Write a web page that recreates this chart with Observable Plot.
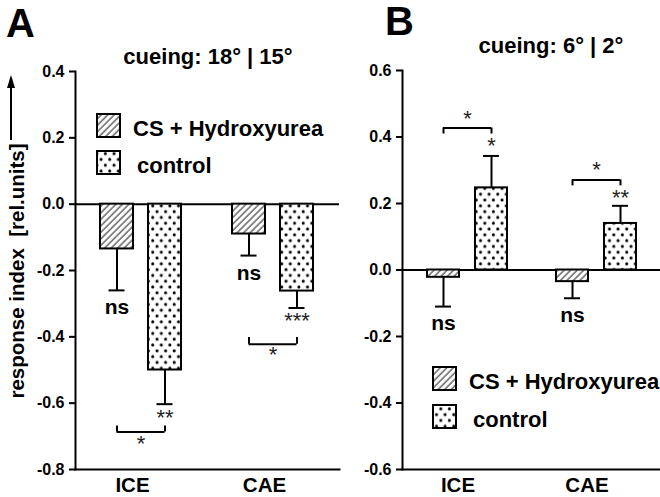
<!DOCTYPE html>
<html>
<head>
<meta charset="utf-8">
<script src="https://cdn.jsdelivr.net/npm/d3@7"></script>
<script src="https://cdn.jsdelivr.net/npm/@observablehq/plot@0.6"></script>
<style>
  html, body { margin: 0; padding: 0; background: #fff; }
  #wrap { position: relative; width: 660px; height: 497px; overflow: hidden; font-family: "Liberation Sans", Arial, sans-serif; }
  #wrap > svg { position: absolute; top: 0; }
</style>
</head>
<body>
<div id="wrap"></div>
<script>
// ---------- data ----------
const categories = ["ICE", "CAE"];
const seriesNames = ["CS + Hydroxyurea", "control"];
const yTicksA = [0.4, 0.2, 0.0, -0.2, -0.4, -0.6, -0.8];
const yTicksB = [0.6, 0.4, 0.2, 0.0, -0.2, -0.4, -0.6];
const titleA = "cueing: 18° | 15°";
const titleB = "cueing: 6° | 2°";
const yLabel = "response index  [rel.units]";

// Panel A
const A_cs      = [-0.135, -0.090];
const A_csErr   = [-0.260, -0.155];
const A_ctl     = [-0.500, -0.262];
const A_ctlErr  = [-0.603, -0.313];
const A_csSig   = ["ns", "ns"];
const A_csSigY  = [-0.31, -0.208];
const A_ctlSig  = ["**", "***"];
const A_ctlSigY = [-0.636, -0.344];
const A_brY     = [-0.687, -0.422];
const A_brEndY  = [-0.669, -0.402];
const A_brSig   = ["*", "*"];
const A_brSigY  = [-0.714, -0.446];

// Panel B
const B_cs      = [-0.022, -0.035];
const B_csErr   = [-0.110, -0.085];
const B_ctl     = [0.247, 0.140];
const B_ctlErr  = [0.343, 0.193];
const B_csSig   = ["ns", "ns"];
const B_csSigY  = [-0.16, -0.135];
const B_ctlSig  = ["*", "**"];
const B_ctlSigY = [0.382, 0.226];
const B_brY     = [0.427, 0.271];
const B_brEndY  = [0.409, 0.253];
const B_brSig   = ["*", "*"];
const B_brSigY  = [0.463, 0.310];

const FONT = "Liberation Sans, Arial, Helvetica, sans-serif";

function rowsOf(cs, csErr, ctl, ctlErr, csSig, csSigY, ctlSig, ctlSigY, brY, brEndY, brSig, brSigY) {
  return categories.map((c, i) => ({
    cat: c, cs: cs[i], csErr: csErr[i], ctl: ctl[i], ctlErr: ctlErr[i],
    csSig: csSig[i], csSigY: csSigY[i], ctlSig: ctlSig[i], ctlSigY: ctlSigY[i],
    brY: brY[i], brEndY: brEndY[i], brSig: brSig[i], brSigY: brSigY[i]
  }));
}

function panel(rows, cfg) {
  const step = (cfg.width - cfg.marginLeft - cfg.marginRight) / categories.length;
  const bw = cfg.barW;
  const csL = cfg.csLeft, ctlL = cfg.ctlLeft;
  const csC = csL + bw / 2, ctlC = ctlL + bw / 2;
  const half = step / 2;
  const cap = 8;
  return Plot.plot({
    width: cfg.width, height: 497,
    marginLeft: cfg.marginLeft, marginRight: cfg.marginRight,
    marginTop: cfg.marginTop, marginBottom: cfg.marginBottom,
    x: { domain: categories, padding: 0, axis: null },
    y: { domain: cfg.domain, label: null, axis: null },
    style: { fontFamily: FONT, color: "black", background: "transparent", overflow: "visible" },
    marks: [
      Plot.ruleY([0], { stroke: "black", strokeWidth: 2 }),
      // error bars (one-sided)
      Plot.ruleX(rows, { x: "cat", y1: "cs", y2: "csErr", dx: csC - half, stroke: "black", strokeWidth: 2 }),
      Plot.tickY(rows, { x: "cat", y: "csErr", insetLeft: csC - cap, insetRight: step - csC - cap, stroke: "black", strokeWidth: 2 }),
      Plot.ruleX(rows, { x: "cat", y1: "ctl", y2: "ctlErr", dx: ctlC - half, stroke: "black", strokeWidth: 2 }),
      Plot.tickY(rows, { x: "cat", y: "ctlErr", insetLeft: ctlC - cap, insetRight: step - ctlC - cap, stroke: "black", strokeWidth: 2 }),
      // bars
      Plot.barY(rows, { x: "cat", y: "cs", fill: "url(#hatch)", stroke: "black", strokeWidth: 2,
        insetLeft: csL, insetRight: step - csL - bw }),
      Plot.barY(rows, { x: "cat", y: "ctl", fill: "url(#dots)", stroke: "black", strokeWidth: 2,
        insetLeft: ctlL, insetRight: step - ctlL - bw }),
      // significance brackets
      Plot.tickY(rows, { x: "cat", y: "brY", insetLeft: csC, insetRight: step - ctlC, stroke: "black", strokeWidth: 2 }),
      Plot.ruleX(rows, { x: "cat", y1: "brY", y2: "brEndY", dx: csC - half, stroke: "black", strokeWidth: 2 }),
      Plot.ruleX(rows, { x: "cat", y1: "brY", y2: "brEndY", dx: ctlC - half, stroke: "black", strokeWidth: 2 }),
      // labels
      Plot.text(rows, { x: "cat", y: "csSigY", text: "csSig", dx: csC - half, fontSize: 21, fontWeight: "bold", fill: "black" }),
      Plot.text(rows, { x: "cat", y: "ctlSigY", text: "ctlSig", dx: ctlC - half, dy: 3, fontSize: 22, fill: "#222" }),
      Plot.text(rows, { x: "cat", y: "brSigY", text: "brSig", dx: (csC + ctlC) / 2 - half, dy: 3, fontSize: 22, fill: "#222" }),
      // axes
      Plot.frame({ anchor: "left", stroke: "black", strokeWidth: 2 }),
      Plot.frame({ anchor: "bottom", stroke: "black", strokeWidth: 2 }),
      Plot.axisY({ ticks: cfg.ticks, tickFormat: d => d.toFixed(1), tickSize: 6, tickPadding: 5,
        fontSize: 16, fontWeight: "bold", stroke: "black", strokeWidth: 2, label: null }),
      Plot.text(categories, { x: d => d, text: d => d, frameAnchor: "bottom", lineAnchor: "top",
        dy: 8, dx: -9, fontSize: 20.5, fontWeight: "bold", fill: "black" })
    ]
  });
}

const wrap = document.getElementById("wrap");

// pattern definitions + annotations overlay
const ov = d3.create("svg").attr("width", 660).attr("height", 497)
  .style("position", "absolute").style("left", "0px").style("top", "0px")
  .style("font-family", FONT);
const defs = ov.append("defs");
const hp = defs.append("pattern").attr("id", "hatch").attr("patternUnits", "userSpaceOnUse")
  .attr("width", 4.6).attr("height", 4.6).attr("patternTransform", "rotate(45)");
hp.append("rect").attr("width", 4.6).attr("height", 4.6).attr("fill", "white");
hp.append("line").attr("x1", 1).attr("y1", 0).attr("x2", 1).attr("y2", 4.6).attr("stroke", "black").attr("stroke-width", 0.9);
const dp = defs.append("pattern").attr("id", "dots").attr("patternUnits", "userSpaceOnUse")
  .attr("width", 8.6).attr("height", 11.6);
dp.append("rect").attr("width", 8.6).attr("height", 11.6).attr("fill", "white");
dp.append("circle").attr("cx", 2.2).attr("cy", 2.8).attr("r", 1.5).attr("fill", "black");
dp.append("circle").attr("cx", 6.5).attr("cy", 8.6).attr("r", 1.5).attr("fill", "black");

const plotA = panel(
  rowsOf(A_cs, A_csErr, A_ctl, A_ctlErr, A_csSig, A_csSigY, A_ctlSig, A_ctlSigY, A_brY, A_brEndY, A_brSig, A_brSigY),
  { width: 345, marginLeft: 75, marginRight: 6, marginTop: 71, marginBottom: 28,
    domain: [-0.8, 0.4], ticks: yTicksA, barW: 33, csLeft: 25, ctlLeft: 73 });
plotA.style.left = "0px";
wrap.appendChild(plotA);

const plotB = panel(
  rowsOf(B_cs, B_csErr, B_ctl, B_ctlErr, B_csSig, B_csSigY, B_ctlSig, B_ctlSigY, B_brY, B_brEndY, B_brSig, B_brSigY),
  { width: 315, marginLeft: 57, marginRight: 0, marginTop: 70, marginBottom: 28,
    domain: [-0.6, 0.6], ticks: yTicksB, barW: 32, csLeft: 25, ctlLeft: 73 });
plotB.style.left = "345px";
wrap.appendChild(plotB);

// panel letters and titles
ov.append("text").attr("x", 6).attr("y", 37).attr("font-size", 40).attr("font-weight", "bold").text("A");
ov.append("text").attr("x", 385).attr("y", 35).attr("font-size", 40).attr("font-weight", "bold").text("B");
ov.append("text").attr("x", 208).attr("y", 64).attr("text-anchor", "middle").attr("font-size", 22).attr("font-weight", "bold").text(titleA);
ov.append("text").attr("x", 551).attr("y", 53).attr("text-anchor", "middle").attr("font-size", 22).attr("font-weight", "bold").text(titleB);

// y label with arrow
ov.append("text").attr("transform", "translate(24,271) rotate(-90)").attr("text-anchor", "middle")
  .attr("font-size", 20.5).attr("font-weight", "bold").attr("xml:space", "preserve").style("white-space", "pre").text(yLabel);
ov.append("line").attr("x1", 11).attr("x2", 11).attr("y1", 140).attr("y2", 84).attr("stroke", "black").attr("stroke-width", 2);
ov.append("path").attr("d", "M11,75 L7,88 L15,88 Z").attr("fill", "black");

// legends
function legend(x, y1, y2, tx1, tx2) {
  ov.append("rect").attr("x", x).attr("y", y1).attr("width", 23).attr("height", 23).attr("fill", "url(#hatch)").attr("stroke", "black").attr("stroke-width", 2);
  ov.append("text").attr("x", tx1).attr("y", y1 + 22).attr("font-size", 22).attr("font-weight", "bold").text(seriesNames[0]);
  ov.append("rect").attr("x", x).attr("y", y2).attr("width", 23).attr("height", 23).attr("fill", "url(#dots)").attr("stroke", "black").attr("stroke-width", 2);
  ov.append("text").attr("x", tx2).attr("y", y2 + 22).attr("font-size", 22).attr("font-weight", "bold").text(seriesNames[1]);
}
legend(97, 114, 151, 133, 137);
legend(433, 367, 405, 469, 473);

wrap.appendChild(ov.node());
</script>
</body>
</html>
